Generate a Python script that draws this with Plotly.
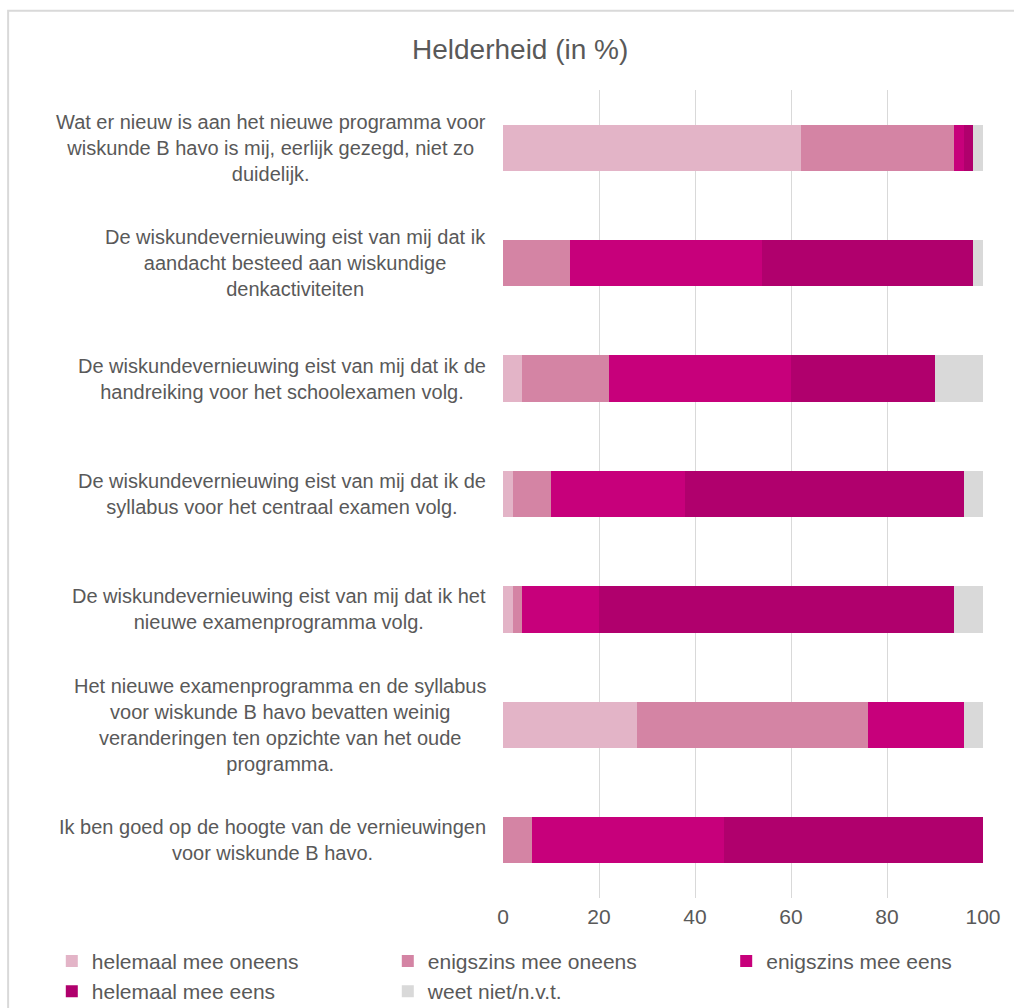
import plotly.graph_objects as go

# Survey statements (top to bottom) and the answer shares per statement, in %
questions = [
    "Wat er nieuw is aan het nieuwe programma voor<br>wiskunde B havo is mij, eerlijk gezegd, niet zo<br>duidelijk.",
    "De wiskundevernieuwing eist van mij dat ik<br>aandacht besteed aan wiskundige<br>denkactiviteiten",
    "De wiskundevernieuwing eist van mij dat ik de<br>handreiking voor het schoolexamen volg.",
    "De wiskundevernieuwing eist van mij dat ik de<br>syllabus voor het centraal examen volg.",
    "De wiskundevernieuwing eist van mij dat ik het<br>nieuwe examenprogramma volg.",
    "Het nieuwe examenprogramma en de syllabus<br>voor wiskunde B havo bevatten weinig<br>veranderingen ten opzichte van het oude<br>programma.",
    "Ik ben goed op de hoogte van de vernieuwingen<br>voor wiskunde B havo.",
]

helemaal_oneens = [62, 0, 4, 2, 2, 28, 0]
enigszins_oneens = [32, 14, 18, 8, 2, 48, 6]
enigszins_eens = [2, 40, 38, 28, 16, 20, 40]
helemaal_eens = [2, 44, 30, 58, 74, 0, 54]
weet_niet = [2, 2, 10, 4, 6, 4, 0]

# (name, values, colour, legend column)
series = [
    ("helemaal mee oneens", helemaal_oneens, "#E3B4C7", "legend"),
    ("enigszins mee oneens", enigszins_oneens, "#D484A4", "legend2"),
    ("enigszins mee eens", enigszins_eens, "#C7007B", "legend3"),
    ("helemaal mee eens", helemaal_eens, "#B0006D", "legend"),
    ("weet niet/n.v.t.", weet_niet, "#D9D9D9", "legend2"),
]

x_ticks = [0, 20, 40, 60, 80, 100]

TEXT = "#595959"
FONT = "Liberation Sans, Arial, sans-serif"

fig = go.Figure()
for name, vals, color, leg in series:
    fig.add_trace(go.Bar(
        name=name, x=vals, y=questions, orientation="h", legend=leg,
        marker=dict(color=color, line=dict(width=0)),
    ))

# Statement labels, centred line by line to the left of the bars
for q in questions:
    fig.add_annotation(
        x=-0.032, xref="paper", y=q, yref="y", text=q,
        showarrow=False, xanchor="right", yanchor="middle", align="center",
        font=dict(family=FONT, size=20, color=TEXT),
    )

# Light grey frame around the chart
fig.add_shape(
    type="rect", xref="paper", yref="paper",
    x0=-1.031, x1=1.12, y0=-0.2, y1=1.098,
    line=dict(color="#D9D9D9", width=2), fillcolor="rgba(0,0,0,0)", layer="below",
)

# Legend laid out as three columns below the axis
legend_style = dict(
    orientation="v", xanchor="left", y=-0.053, yanchor="top",
    traceorder="normal", font=dict(family=FONT, size=21, color=TEXT),
    bgcolor="rgba(0,0,0,0)", itemwidth=30, tracegroupgap=0,
)

fig.update_layout(
    width=1014, height=1008,
    margin=dict(l=503, r=31, t=90, b=110, autoexpand=False),
    barmode="stack", bargap=0.6,
    paper_bgcolor="white", plot_bgcolor="white",
    font=dict(family=FONT, size=20, color=TEXT),
    title=dict(text="Helderheid (in %)", x=0.513, xanchor="center", y=0.951, yanchor="middle",
               font=dict(family=FONT, size=28, color=TEXT)),
    xaxis=dict(range=[0, 100], tickvals=x_ticks, showgrid=True, gridcolor="#D9D9D9",
               gridwidth=1, zeroline=False, showline=False, ticks="",
               ticklabelstandoff=4,
               tickfont=dict(family=FONT, size=21, color=TEXT)),
    yaxis=dict(showticklabels=False, autorange="reversed", showgrid=False,
               zeroline=False, showline=False, ticks=""),
    legend=dict(x=-0.94, **legend_style),
    legend2=dict(x=-0.24, **legend_style),
    legend3=dict(x=0.465, **legend_style),
    showlegend=True,
)

fig.write_html("out.html")
